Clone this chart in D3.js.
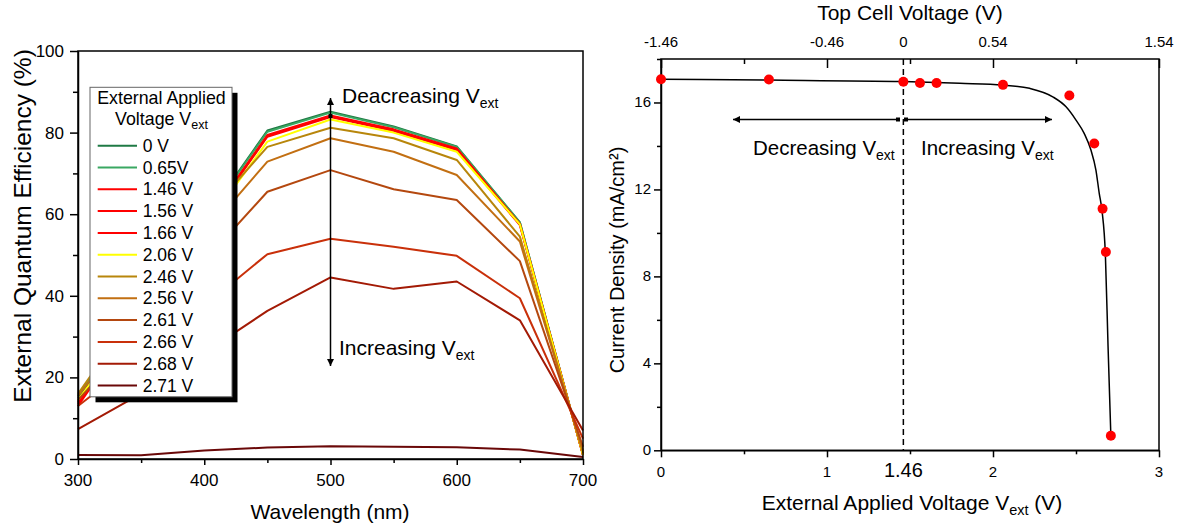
<!DOCTYPE html>
<html><head><meta charset="utf-8">
<script src="https://cdn.jsdelivr.net/npm/d3@7"></script>
<style>
body{margin:0;background:#fff}
svg{display:block}
text{font-family:Arial,"Liberation Sans",sans-serif;fill:#000}
</style>
</head><body>
<svg id="c" width="1182" height="528"></svg>
<script>
// ---------- Left chart data (EQE vs wavelength) ----------
const wavelengths = [300, 350, 400, 450, 500, 550, 600, 650, 700];
const voltageLabels = ["0 V", "0.65V", "1.46 V", "1.56 V", "1.66 V", "2.06 V", "2.46 V", "2.56 V", "2.61 V", "2.66 V", "2.68 V", "2.71 V"];
const eqe_0V    = [15.0, 37.0, 58.5, 80.5, 85.1, 81.5, 76.6, 58.0, 1.0];
const eqe_065V  = [15.5, 37.0, 58.3, 80.2, 84.9, 81.3, 76.5, 58.0, 1.0];
const eqe_146V  = [14.0, 36.0, 57.5, 79.4, 84.2, 80.8, 76.1, 57.6, 1.0];
const eqe_156V  = [13.5, 35.5, 57.2, 79.2, 84.0, 80.6, 75.9, 57.5, 1.0];
const eqe_166V  = [13.0, 35.5, 57.0, 79.0, 83.8, 80.4, 75.7, 57.3, 1.0];
const eqe_206V  = [14.5, 35.0, 56.5, 77.8, 83.2, 80.0, 75.3, 57.5, 1.0];
const eqe_246V  = [16.0, 38.0, 59.0, 76.5, 81.2, 78.6, 73.3, 54.5, 1.5];
const eqe_256V  = [15.5, 35.0, 55.0, 72.9, 78.6, 75.3, 69.6, 53.3, 2.0];
const eqe_261V  = [14.5, 31.0, 48.5, 65.5, 70.8, 66.1, 63.5, 48.5, 3.0];
const eqe_266V  = [13.0, 25.0, 37.5, 50.2, 54.0, 52.0, 49.8, 39.4, 5.0];
const eqe_268V  = [7.3, 16.0, 26.0, 36.3, 44.5, 41.7, 43.5, 34.0, 7.0];
const eqe_271V  = [1.0, 0.9, 2.1, 2.8, 3.1, 3.0, 2.9, 2.3, 0.5];
const eqeTicks = [0, 20, 40, 60, 80, 100];
const wlTicks = [300, 400, 500, 600, 700];

// ---------- Right chart data (J-V) ----------
const vext = [0, 0.65, 1.46, 1.56, 1.66, 2.06, 2.46, 2.61, 2.66, 2.68, 2.71];
const jsc  = [17.07, 17.06, 16.95, 16.9, 16.9, 16.81, 16.32, 14.11, 11.11, 9.12, 0.67];
const fitV = [0, 0.65, 1.46, 1.8, 2.06, 2.22, 2.36, 2.44, 2.50, 2.55, 2.59, 2.62, 2.64, 2.657, 2.677, 2.693, 2.71];
const fitJ = [17.07, 17.03, 16.96, 16.88, 16.8, 16.65, 16.26, 15.8, 15.19, 14.57, 13.81, 12.89, 11.82, 11.0, 9.0, 4.8, 0.67];
const jTicks = [0, 4, 8, 12, 16];
const vTicks = [0, 1, 2, 3];
const topTickPos = [0, 1, 1.46, 2, 3];
const topTickLabels = ["-1.46", "-0.46", "0", "0.54", "1.54"];

// ---------- styles ----------
const colors = ["#1f7a45", "#3aa862", "#ff0000", "#ff0000", "#ff0000", "#ffff00", "#b8860b", "#c26f12", "#b4480f", "#c9300a", "#a31a05", "#6a0808"];
const series = [eqe_0V, eqe_065V, eqe_146V, eqe_156V, eqe_166V, eqe_206V, eqe_246V, eqe_256V, eqe_261V, eqe_266V, eqe_268V, eqe_271V];

const svg = d3.select("#c");
const defs = svg.append("defs");
function marker(id, orient) {
  defs.append("marker").attr("id", id).attr("viewBox", "0 0 10 10").attr("refX", 10).attr("refY", 5)
    .attr("markerWidth", 7).attr("markerHeight", 7).attr("markerUnits", "userSpaceOnUse").attr("orient", orient)
    .append("path").attr("d", "M0,0 L10,5 L0,10 z").attr("fill", "#000");
}
marker("ah", "auto");

// ================= LEFT CHART =================
const xL = d3.scaleLinear().domain([300, 700]).range([78, 583]);
const yL = d3.scaleLinear().domain([0, 100]).range([459, 51]);
const gL = svg.append("g");

const line = d3.line().x((d, i) => xL(wavelengths[i])).y(d => yL(d));
series.forEach((s, k) => {
  gL.append("path").attr("d", line(s)).attr("fill", "none").attr("stroke", colors[k]).attr("stroke-width", 2).attr("stroke-linejoin", "round");
});

// axes ticks
gL.append("g").attr("transform", "translate(78,0)").call(d3.axisLeft(yL).tickValues(eqeTicks).tickSize(8).tickSizeOuter(0).tickFormat(""));
gL.append("g").attr("transform", "translate(78,0)").call(d3.axisLeft(yL).tickValues([10, 30, 50, 70, 90]).tickSize(5).tickSizeOuter(0).tickFormat("")).select(".domain").remove();
gL.append("g").attr("transform", "translate(0,459)").call(d3.axisBottom(xL).tickValues(wlTicks).tickSize(6).tickSizeOuter(0).tickFormat(""));
gL.append("g").attr("transform", "translate(0,459)").call(d3.axisBottom(xL).tickValues([350, 450, 550, 650]).tickSize(4).tickSizeOuter(0).tickFormat("")).select(".domain").remove();
gL.selectAll(".tick line, .domain").attr("stroke", "#000").attr("stroke-width", 1.5);
gL.append("rect").attr("x", xL(300)).attr("y", yL(100)).attr("width", xL(700) - xL(300)).attr("height", yL(0) - yL(100))
  .attr("fill", "none").attr("stroke", "#000").attr("stroke-width", 1.5);

gL.selectAll(".ylab").data(eqeTicks).enter().append("text").attr("x", 64).attr("y", d => yL(d) + 6)
  .attr("text-anchor", "end").attr("font-size", 17).text(d => d);
gL.selectAll(".xlab").data(wlTicks).enter().append("text").attr("x", d => xL(d)).attr("y", 486)
  .attr("text-anchor", "middle").attr("font-size", 17).text(d => d);
gL.append("text").attr("x", 330).attr("y", 519).attr("text-anchor", "middle").attr("font-size", 21).text("Wavelength (nm)");
gL.append("text").attr("transform", "translate(31,226) rotate(-90)").attr("text-anchor", "middle").attr("font-size", 24.5)
  .text("External Quantum Efficiency (%)");

// annotations
gL.append("line").attr("x1", xL(500)).attr("x2", xL(500)).attr("y1", 116).attr("y2", 98)
  .attr("stroke", "#000").attr("stroke-width", 1.5).attr("marker-end", "url(#ah)");
gL.append("line").attr("x1", xL(500)).attr("x2", xL(500)).attr("y1", 116).attr("y2", 366)
  .attr("stroke", "#000").attr("stroke-width", 1.5).attr("marker-end", "url(#ah)");
gL.append("rect").attr("x", xL(500) - 2).attr("y", 114).attr("width", 4).attr("height", 4).attr("fill", "#000");
const t1 = gL.append("text").attr("x", 342).attr("y", 103).attr("font-size", 21);
t1.append("tspan").text("Deacreasing V");
t1.append("tspan").attr("font-size", 14).attr("dy", 5).text("ext");
const t2 = gL.append("text").attr("x", 339).attr("y", 355).attr("font-size", 21);
t2.append("tspan").text("Increasing V");
t2.append("tspan").attr("font-size", 14).attr("dy", 5).text("ext");

// legend
const lg = gL.append("g");
lg.append("rect").attr("x", 95.5).attr("y", 92.8).attr("width", 142).attr("height", 309.5).attr("fill", "#000");
lg.append("rect").attr("x", 90).attr("y", 87.3).attr("width", 142).attr("height", 309.5).attr("fill", "#fff").attr("stroke", "#666").attr("stroke-width", 1);
lg.append("text").attr("x", 161.5).attr("y", 104).attr("text-anchor", "middle").attr("font-size", 17.8).text("External Applied");
const lt = lg.append("text").attr("x", 161.5).attr("y", 125).attr("text-anchor", "middle").attr("font-size", 17.8);
lt.append("tspan").text("Voltage V");
lt.append("tspan").attr("font-size", 12.5).attr("dy", 4).text("ext");
voltageLabels.forEach((lab, k) => {
  const yy = 145.7 + k * 21.8;
  lg.append("line").attr("x1", 97.7).attr("x2", 137).attr("y1", yy).attr("y2", yy).attr("stroke", colors[k]).attr("stroke-width", 2);
  lg.append("text").attr("x", 142.7).attr("y", yy + 6).attr("font-size", 17.5).text(lab);
});

// ================= RIGHT CHART =================
const xR = d3.scaleLinear().domain([0, 3]).range([661, 1159]);
const yR = d3.scaleLinear().domain([0, 18]).range([450.3, 59]);
const gR = svg.append("g");

gR.append("line").attr("x1", xR(1.46)).attr("x2", xR(1.46)).attr("y1", yR(18)).attr("y2", yR(0))
  .attr("stroke", "#000").attr("stroke-width", 1.5).attr("stroke-dasharray", "6,4");

gR.append("g").attr("transform", "translate(661,0)").call(d3.axisLeft(yR).tickValues(jTicks).tickSize(7).tickSizeOuter(0).tickFormat(""));
gR.append("g").attr("transform", "translate(661,0)").call(d3.axisLeft(yR).tickValues([2, 6, 10, 14, 18]).tickSize(4).tickSizeOuter(0).tickFormat("")).select(".domain").remove();
gR.append("g").attr("transform", "translate(0,450.3)").call(d3.axisBottom(xR).tickValues(vTicks).tickSize(7).tickSizeOuter(0).tickFormat(""));
gR.append("g").attr("transform", "translate(0,450.3)").call(d3.axisBottom(xR).tickValues([0.5, 1.5, 2.5]).tickSize(4).tickSizeOuter(0).tickFormat("")).select(".domain").remove();
gR.append("g").attr("transform", "translate(0,59)").call(d3.axisBottom(xR).tickValues(vTicks).tickSize(9).tickSizeOuter(0).tickFormat("")).select(".domain").remove();
gR.append("g").attr("transform", "translate(0,59)").call(d3.axisBottom(xR).tickValues([0.5, 1.5, 2.5]).tickSize(5).tickSizeOuter(0).tickFormat("")).select(".domain").remove();
gR.selectAll(".tick line, .domain").attr("stroke", "#000").attr("stroke-width", 1.5);
gR.append("rect").attr("x", xR(0)).attr("y", yR(18)).attr("width", xR(3) - xR(0)).attr("height", yR(0) - yR(18))
  .attr("fill", "none").attr("stroke", "#000").attr("stroke-width", 1.5);

gR.selectAll(".ylab").data(jTicks).enter().append("text").attr("x", 651).attr("y", d => yR(d) + 5)
  .attr("text-anchor", "end").attr("font-size", 15).text(d => d);
gR.selectAll(".xlab").data(vTicks).enter().append("text").attr("x", d => xR(d)).attr("y", 477)
  .attr("text-anchor", "middle").attr("font-size", 15).text(d => d);
gR.append("text").attr("x", xR(1.46)).attr("y", 477).attr("text-anchor", "middle").attr("font-size", 20).text("1.46");
gR.selectAll(".tlab").data(topTickPos).enter().append("text").attr("x", d => xR(d)).attr("y", 47)
  .attr("text-anchor", "middle").attr("font-size", 15).text((d, i) => topTickLabels[i]);

gR.append("text").attr("x", 910).attr("y", 20).attr("text-anchor", "middle").attr("font-size", 21).text("Top Cell Voltage (V)");
const xt = gR.append("text").attr("x", 912).attr("y", 510).attr("text-anchor", "middle").attr("font-size", 21);
xt.append("tspan").text("External Applied Voltage V");
xt.append("tspan").attr("font-size", 14.5).attr("dy", 5).text("ext");
xt.append("tspan").attr("dy", -5).text(" (V)");
gR.append("text").attr("transform", "translate(624,260) rotate(-90)").attr("text-anchor", "middle").attr("font-size", 20)
  .text("Current Density (mA/cm²)");

// arrows
gR.append("line").attr("x1", 898).attr("x2", 733).attr("y1", 119.5).attr("y2", 119.5).attr("stroke", "#000").attr("stroke-width", 1.5).attr("marker-end", "url(#ah)");
gR.append("rect").attr("x", 896).attr("y", 117.5).attr("width", 4).attr("height", 4).attr("fill", "#000");
gR.append("line").attr("x1", 906).attr("x2", 1052).attr("y1", 119.5).attr("y2", 119.5).attr("stroke", "#000").attr("stroke-width", 1.5).attr("marker-end", "url(#ah)");
gR.append("rect").attr("x", 904).attr("y", 117.5).attr("width", 4).attr("height", 4).attr("fill", "#000");
const d1 = gR.append("text").attr("x", 753).attr("y", 155).attr("font-size", 20.5);
d1.append("tspan").text("Decreasing V");
d1.append("tspan").attr("font-size", 14).attr("dy", 5).text("ext");
const d2 = gR.append("text").attr("x", 921).attr("y", 155).attr("font-size", 20.5);
d2.append("tspan").text("Increasing V");
d2.append("tspan").attr("font-size", 14).attr("dy", 5).text("ext");

// fit curve and points
const fitLine = d3.line().x((d, i) => xR(fitV[i])).y(d => yR(d)).curve(d3.curveMonotoneX);
gR.append("path").attr("d", fitLine(fitJ)).attr("fill", "none").attr("stroke", "#000").attr("stroke-width", 1.5);
gR.selectAll(".pt").data(jsc).enter().append("circle").attr("cx", (d, i) => xR(vext[i])).attr("cy", d => yR(d))
  .attr("r", 5).attr("fill", "#ff0000");
</script>
</body></html>
